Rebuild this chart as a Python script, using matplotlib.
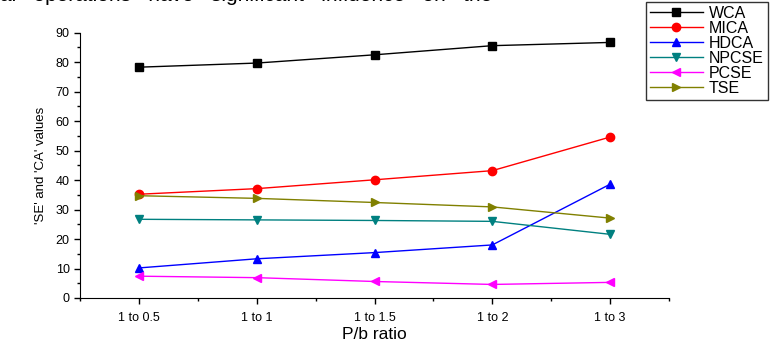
import matplotlib
matplotlib.use("Agg")
import matplotlib.pyplot as plt
from matplotlib.ticker import MultipleLocator, FixedLocator

plt.rcParams['font.family'] = ['Liberation Sans', 'DejaVu Sans']

categories = ["1 to 0.5", "1 to 1", "1 to 1.5", "1 to 2", "1 to 3"]
WCA = [78.3, 79.7, 82.5, 85.6, 86.7]
MICA = [35.2, 37.1, 40.1, 43.2, 54.6]
HDCA = [10.2, 13.3, 15.4, 18.0, 38.6]
NPCSE = [26.7, 26.5, 26.3, 26.0, 21.6]
PCSE = [7.4, 6.9, 5.6, 4.6, 5.3]
TSE = [34.7, 33.8, 32.4, 30.9, 27.1]

series = [
    ("WCA", WCA, "black", "s"),
    ("MICA", MICA, "red", "o"),
    ("HDCA", HDCA, "blue", "^"),
    ("NPCSE", NPCSE, "#008080", "v"),
    ("PCSE", PCSE, "magenta", "<"),
    ("TSE", TSE, "#808000", ">"),
]

fig = plt.figure(figsize=(7.76, 3.44), dpi=100)
ax = fig.add_axes([80/776, 1-298/344, (669-80)/776, (298-32.7)/344])

x = list(range(len(categories)))
for name, vals, col, mk in series:
    ax.plot(x, vals, color=col, marker=mk, markersize=6, linewidth=1, label=name)

ax.set_xlim(-0.5, 4.5)
ax.set_ylim(0, 90)
ax.set_xticks(x)
ax.set_xticklabels(categories, fontsize=9)
ax.xaxis.set_minor_locator(FixedLocator([-0.5, 0.5, 1.5, 2.5, 3.5, 4.5]))
ax.yaxis.set_major_locator(MultipleLocator(10))
ax.yaxis.set_minor_locator(MultipleLocator(5))
ax.tick_params(axis='y', labelsize=9)
ax.tick_params(which='major', direction='out', length=4, width=1)
ax.tick_params(which='minor', direction='out', length=2.5, width=1)
ax.tick_params(axis='x', pad=6)
ax.spines['top'].set_visible(False)
ax.spines['right'].set_visible(False)
ax.set_xlabel("P/b ratio", fontsize=12.5, labelpad=2)
ax.set_ylabel("'SE' and 'CA' values", fontsize=9.5, labelpad=6)

leg = fig.legend(loc='upper left', bbox_to_anchor=(646/776, 1-2/344), fontsize=11.5,
                 frameon=True, fancybox=False, edgecolor='black', handlelength=3.3,
                 labelspacing=0.0, borderpad=0.25, handletextpad=0.4, borderaxespad=0,
                 markerscale=1.0)
leg.get_frame().set_linewidth(1)

fig.text(0.0, 1.012, "al   operations   have   significant   influence   on   the",
         fontsize=15, ha='left', va='center')

fig.savefig("out.png", dpi=100)
